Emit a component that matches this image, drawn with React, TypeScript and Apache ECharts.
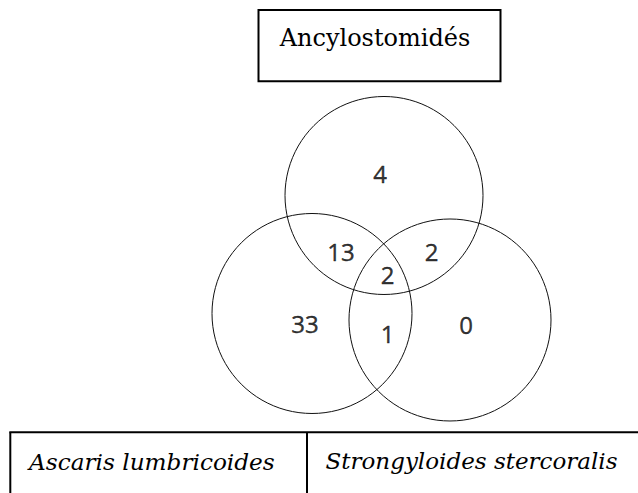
import React, { useEffect, useRef } from "react";
import * as echarts from "echarts";

// Venn sets (centre x, centre y, radius) in diagram units (y grows downward)
const setNames = ["Ancylostomidés", "Ascaris lumbricoides", "Strongyloides stercoralis"];
const setCircles: [number, number, number][] = [
  [384, 195.5, 99],
  [312, 313.5, 100],
  [450, 320, 101],
];
// Region counts: [x, y, count]
const regionLabels = ["Ancylo only", "Ancylo+Ascaris", "Ancylo+Strongy", "All three", "Ascaris only", "Ascaris+Strongy", "Strongy only"];
const regionCounts = [4, 13, 2, 2, 33, 1, 0];
const regionPositions: [number, number][] = [
  [380, 173.5],
  [341, 251],
  [431.5, 251],
  [387.5, 274],
  [305, 323],
  [387.5, 333.5],
  [466, 324],
];

export default function App() {
  const ref = useRef<HTMLDivElement>(null);
  useEffect(() => {
    if (!ref.current) return;
    const chart = echarts.init(ref.current, null, { renderer: "svg" });
    const serif = "DejaVu Serif";
    const setLabel = (name: string, x: number, y: number, italic: boolean, align: string, size: number) => ({
      type: "text",
      x,
      y,
      style: {
        text: name,
        fontFamily: serif,
        fontStyle: italic ? "italic" : "normal",
        fontSize: size,
        fill: "#000",
        align,
        verticalAlign: "middle",
      },
    });
    chart.setOption({
      animation: false,
      backgroundColor: "#fff",
      grid: { left: 0, right: 0, top: 0, bottom: 0 },
      xAxis: { type: "value", min: 0, max: 638, show: false },
      yAxis: { type: "value", min: 0, max: 493, inverse: true, show: false },
      series: [
        {
          type: "custom",
          data: setCircles,
          renderItem: (params: any, api: any) => {
            const c = api.coord([api.value(0), api.value(1)]);
            const s = api.size([api.value(2), api.value(2)]);
            return {
              type: "circle",
              shape: { cx: c[0], cy: c[1], r: s[0] },
              style: { fill: "none", stroke: "#111", lineWidth: 1 },
            };
          },
          silent: true,
        },
        {
          type: "scatter",
          symbolSize: 0,
          data: regionCounts.map((v, i) => ({
            name: regionLabels[i],
            value: [regionPositions[i][0], regionPositions[i][1], v],
          })),
          label: {
            show: true,
            position: "inside",
            formatter: (p: any) => String(p.value[2]),
            fontFamily: "Open Sans",
            fontSize: 24,
            color: "#000",
            textBorderColor: "#000",
            textBorderWidth: 0.4,
          },
          silent: true,
        },
      ],
      graphic: [
        {
          type: "rect",
          shape: { x: 258.5, y: 10, width: 242, height: 71.3 },
          style: { fill: "none", stroke: "#000", lineWidth: 2 },
        },
        setLabel(setNames[0], 375, 37.5, false, "center", 24),
        {
          type: "line",
          shape: { x1: 9.3, y1: 432.3, x2: 638, y2: 432.3 },
          style: { stroke: "#000", lineWidth: 2 },
        },
        {
          type: "line",
          shape: { x1: 10.3, y1: 432.3, x2: 10.3, y2: 493 },
          style: { stroke: "#000", lineWidth: 2 },
        },
        {
          type: "line",
          shape: { x1: 307, y1: 432.3, x2: 307, y2: 493 },
          style: { stroke: "#000", lineWidth: 2 },
        },
        setLabel(setNames[1], 29, 461, true, "left", 23.2),
        setLabel(setNames[2], 325.5, 461, true, "left", 23),
      ],
    });
    return () => chart.dispose();
  }, []);
  return (
    <div
      ref={ref}
      style={{ position: "fixed", left: 0, top: 0, width: 638, height: 493 }}
    />
  );
}
